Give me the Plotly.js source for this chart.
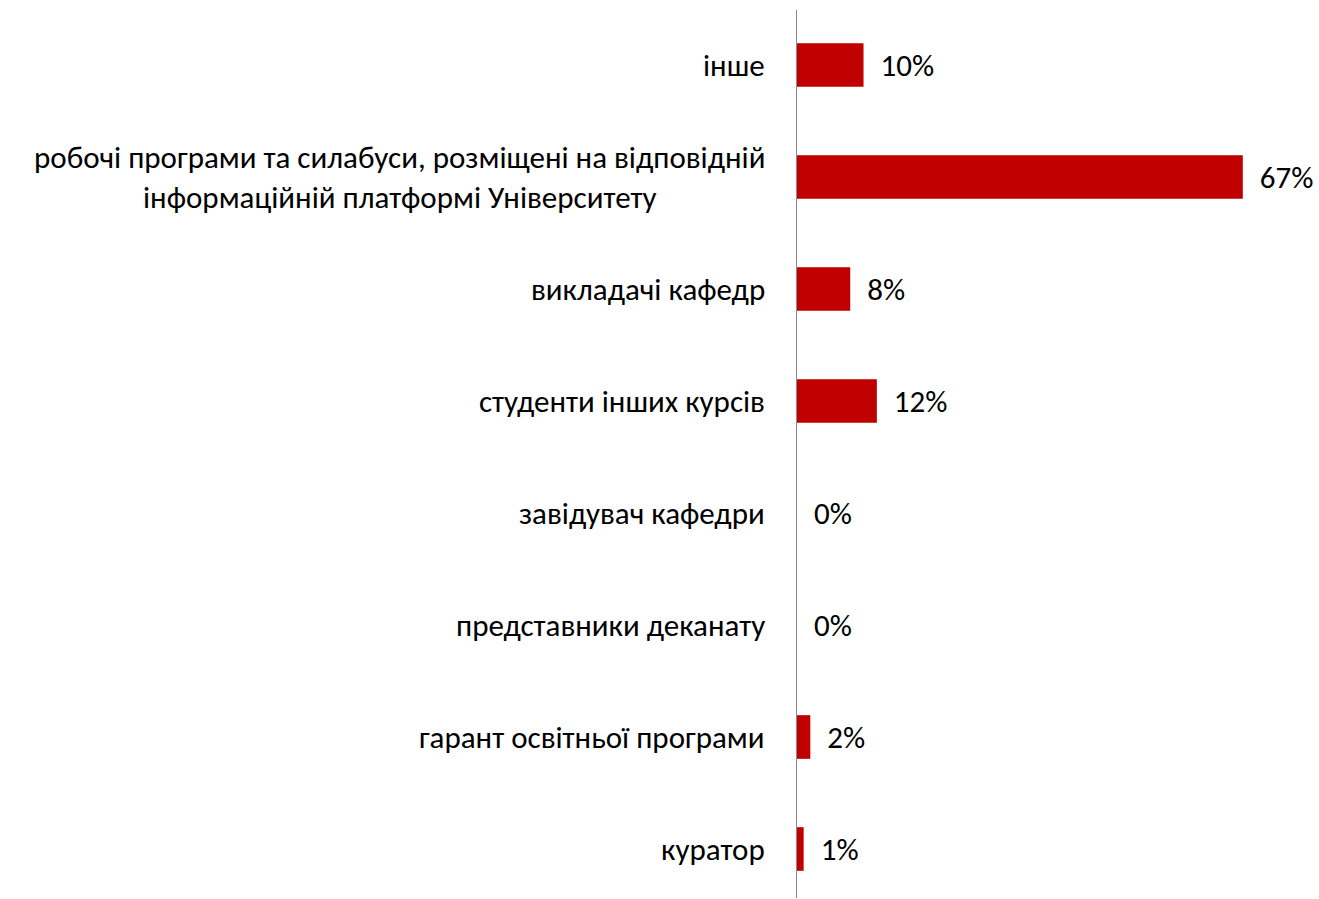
<!DOCTYPE html>
<html>
<head>
<meta charset="utf-8">
<script src="https://cdn.plot.ly/plotly-3.0.1.min.js"></script>
<style>html,body{margin:0;padding:0;background:#fff;}#chart{width:1319px;height:899px;}</style>
</head>
<body>
<div id="chart"></div>
<script>
const categories = [
  "інше",
  "робочі програми та силабуси, розміщені на відповідній<br>інформаційній платформі Університету",
  "викладачі кафедр",
  "студенти інших курсів",
  "завідувач кафедри",
  "представники деканату",
  "гарант освітньої програми",
  "куратор"
];
const values = [10, 67, 8, 12, 0, 0, 2, 1];
const valueLabels = ["10%", "67%", "8%", "12%", "0%", "0%", "2%", "1%"];

const FONT = "Carlito, Lato, 'Noto Sans', sans-serif";

const trace = {
  type: "bar",
  orientation: "h",
  y: categories,
  x: values,
  marker: {color: "#C00000"},
  text: valueLabels.map(t => "\u00a0\u00a0" + t),
  textposition: "outside",
  cliponaxis: false,
  textfont: {family: FONT, size: 31, color: "#000"},
  hoverinfo: "skip"
};

const annotations = categories.map(c => ({
  xref: "paper", yref: "y", x: 0, y: c,
  xanchor: "right", yanchor: "middle", xshift: -30,
  text: c, showarrow: false, align: "center",
  font: {family: FONT, size: 31, color: "#000"}
}));

const layout = {
  width: 1319, height: 899,
  margin: {l: 797, r: 3, t: 10, b: 1},
  paper_bgcolor: "#fff", plot_bgcolor: "#fff",
  showlegend: false,
  bargap: 0.61,
  xaxis: {range: [0, 78], visible: false, fixedrange: true},
  yaxis: {
    type: "category", categoryorder: "array", categoryarray: categories,
    range: [7.4375, -0.491],
    showticklabels: false, ticks: "", showgrid: false, zeroline: false,
    showline: true, linecolor: "#8c8c8c", linewidth: 1
  },
  annotations: annotations
};

Plotly.newPlot("chart", [trace], layout, {displayModeBar: false, staticPlot: true});
</script>
</body>
</html>
